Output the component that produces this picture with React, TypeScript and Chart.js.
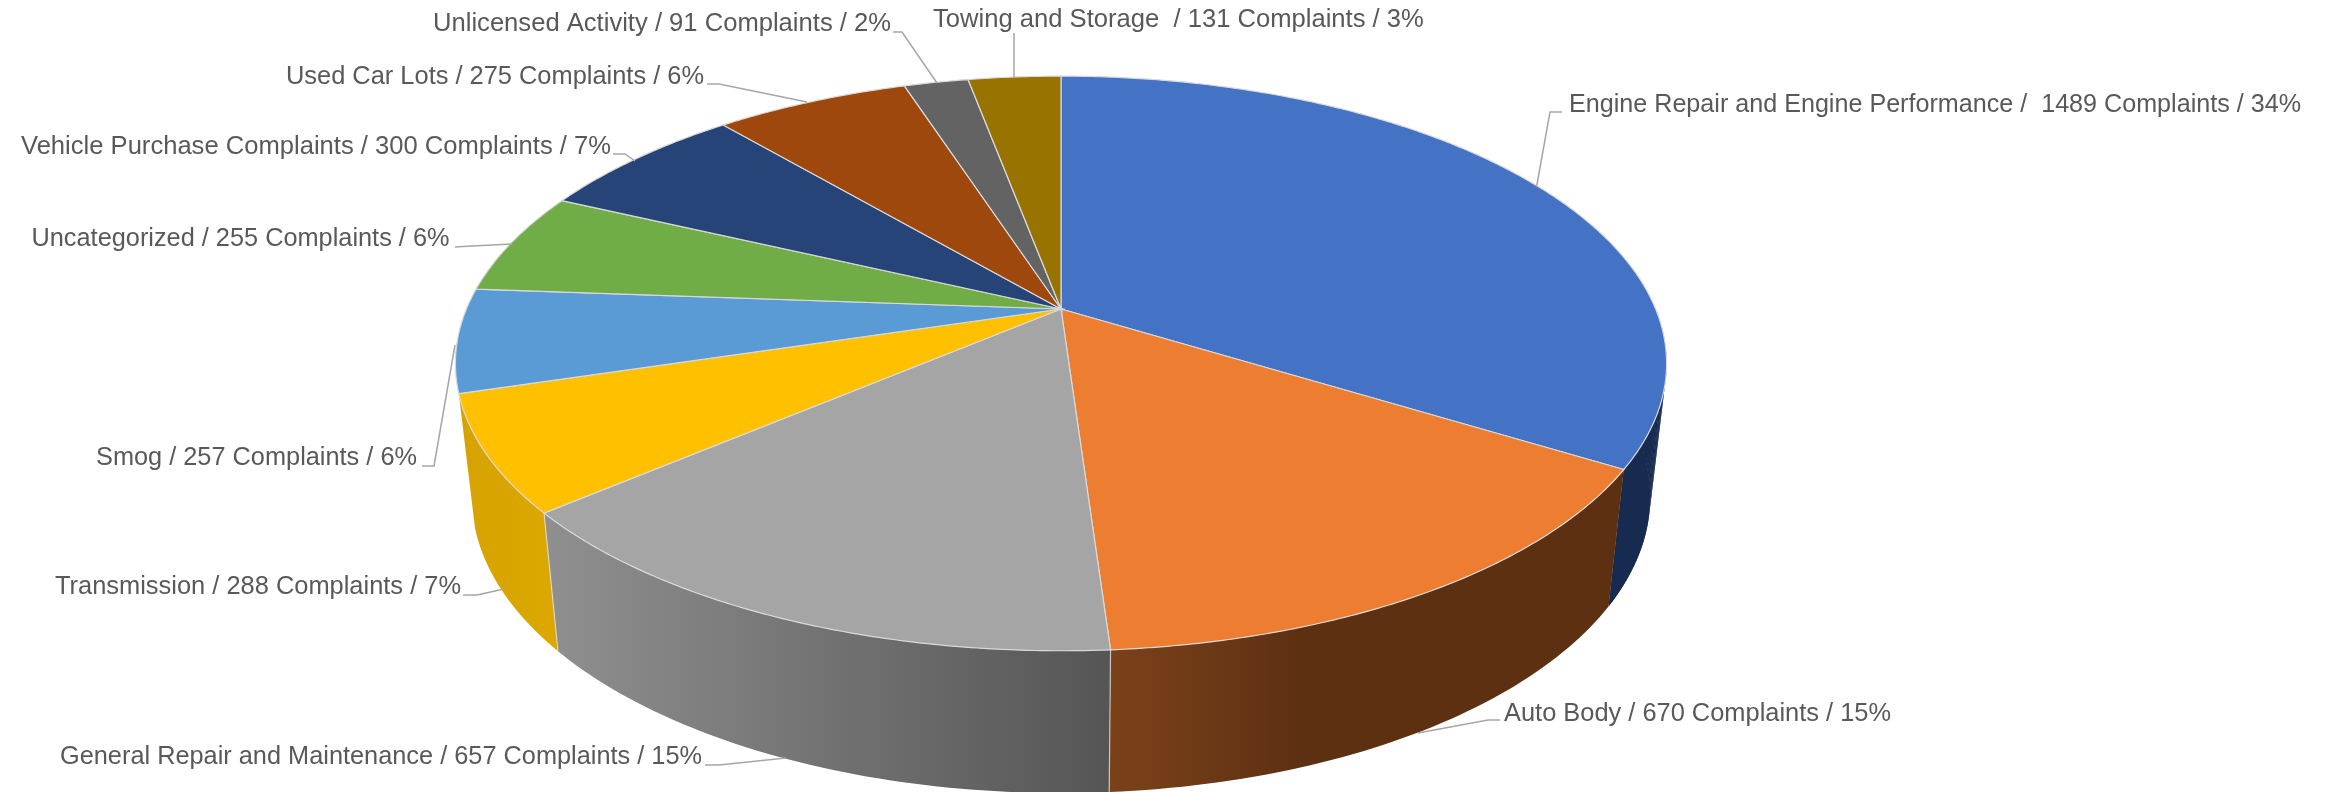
import React, { useEffect, useRef } from "react";
import { Chart, registerables, PieController } from "chart.js";

const categories = [
  "Engine Repair and Engine Performance",
  "Auto Body",
  "General Repair and Maintenance",
  "Transmission",
  "Smog",
  "Uncategorized",
  "Vehicle Purchase Complaints",
  "Used Car Lots",
  "Unlicensed Activity",
  "Towing and Storage",
];
const complaints = [1489, 670, 657, 288, 257, 255, 300, 275, 91, 131];
const percents = [34, 15, 15, 7, 6, 6, 7, 6, 2, 3];
const topColors = ["#4472C4", "#ED7D31", "#A5A5A5", "#FFC000", "#5B9BD5", "#70AD47", "#264478", "#9E480E", "#636363", "#997300"];
const labelTexts = categories.map((c, i) => {
  if (i === 0) return `${c} /  ${complaints[i]} Complaints / ${percents[i]}%`;
  if (i === 9) return `${c}  / ${complaints[i]} Complaints / ${percents[i]}%`;
  return `${c} / ${complaints[i]} Complaints / ${percents[i]}%`;
});

// wall shading per slice: [gradient from x, to x, from colour, to colour]
const wallShades: ([number, number, string, string] | null)[] = [
  [1550, 1670, "#172B50", "#172B50"],
  [1111, 1300, "#7B4219", "#5E3012"],
  [550, 1111, "#8F8F8F", "#555555"],
  [455, 560, "#D5A200", "#DCA800"],
  null, null, null, null, null, null,
];

// perspective of the pie disc
const TOP = { ax: 1061, ay: 309, a: 594.6, b: 277, k: 0.1895 };
const BOTTOM = { ax: 1061, ay: 441, sx: 0.973, sy: 1.03 };

function topPoint(t: number) {
  const u = Math.cos(t), v = Math.sin(t), w = 1 - TOP.k * v;
  return [TOP.ax + (TOP.a * u) / w, TOP.ay + (TOP.b * v) / w];
}
function bottomPoint(t: number) {
  const u = Math.cos(t), v = Math.sin(t), w = 1 - TOP.k * v;
  return [BOTTOM.ax + (BOTTOM.sx * TOP.a * u) / w, BOTTOM.ay + (BOTTOM.sy * TOP.b * v) / w];
}

class Pie3DController extends (PieController as any) {
  static id = "pie3d";
  draw() {
    const ctx = (this as any).chart.ctx as CanvasRenderingContext2D;
    const arcs = (this as any).getMeta().data as any[];
    ctx.save();
    // side walls, visible (front) part only
    arcs.forEach((arc, i) => {
      const shade = wallShades[i];
      if (!shade) return;
      const s = i === 0 ? 0 : arc.startAngle;
      const e = arc.endAngle;
      const g = ctx.createLinearGradient(shade[0], 0, shade[1], 0);
      g.addColorStop(0, shade[2]);
      g.addColorStop(1, shade[3]);
      ctx.fillStyle = g;
      const n = Math.max(2, Math.ceil((e - s) / (Math.PI / 180)));
      ctx.beginPath();
      for (let j = 0; j <= n; j++) {
        const p = topPoint(s + ((e - s) * j) / n);
        j ? ctx.lineTo(p[0], p[1]) : ctx.moveTo(p[0], p[1]);
      }
      for (let j = n; j >= 0; j--) {
        const p = bottomPoint(s + ((e - s) * j) / n);
        ctx.lineTo(p[0], p[1]);
      }
      ctx.closePath();
      ctx.fill();
      if (i === 0) {
        // swept quads give the straight silhouette between the two rims
        for (let j = 0; j < n; j++) {
          const a0 = s + ((e - s) * j) / n;
          const a1 = s + ((e - s) * (j + 1)) / n;
          const q = [topPoint(a0), topPoint(a1), bottomPoint(a1), bottomPoint(a0)];
          ctx.beginPath();
          q.forEach((c, m) => (m ? ctx.lineTo(c[0], c[1]) : ctx.moveTo(c[0], c[1])));
          ctx.closePath();
          ctx.fill();
        }
      }
    });
    // wall separators
    arcs.forEach((arc) => {
      const a = arc.startAngle;
      if (a > 1 && a < 2.6) {
        const p = topPoint(a), q = bottomPoint(a);
        ctx.strokeStyle = "rgba(225,225,225,0.75)";
        ctx.lineWidth = 1.2;
        ctx.beginPath();
        ctx.moveTo(p[0], p[1]);
        ctx.lineTo(q[0], q[1]);
        ctx.stroke();
      }
    });
    // top face
    arcs.forEach((arc, i) => {
      ctx.beginPath();
      ctx.moveTo(TOP.ax, TOP.ay);
      const n = Math.max(2, Math.ceil((arc.endAngle - arc.startAngle) / (0.5 * Math.PI / 180)));
      for (let j = 0; j <= n; j++) {
        const p = topPoint(arc.startAngle + ((arc.endAngle - arc.startAngle) * j) / n);
        ctx.lineTo(p[0], p[1]);
      }
      ctx.closePath();
      ctx.fillStyle = topColors[i];
      ctx.fill();
      ctx.strokeStyle = "#D9D9D9";
      ctx.lineWidth = 1.2;
      ctx.stroke();
    });
    ctx.restore();
  }
}

const FONT = '25.6px "Liberation Sans", Arial, sans-serif';
// label layout: left x, baseline y, max width, and leader polyline
const labelLayout: { x: number; y: number; w: number; leader: number[][] }[] = [
  { x: 1569, y: 112, w: 732, leader: [[1562, 112], [1550, 112], [1536.5, 187]] },
  { x: 1504, y: 721, w: 387, leader: [[1500, 720], [1488, 720], [1418, 733]] },
  { x: 60, y: 764, w: 642, leader: [[705, 765], [719, 765], [786, 758]] },
  { x: 55, y: 594, w: 406, leader: [[463, 595], [477, 595], [504, 589]] },
  { x: 96, y: 465, w: 321, leader: [[422, 466], [434, 466], [455, 345]] },
  { x: 31.5, y: 246, w: 418, leader: [[455, 247], [463, 246.5], [512, 244]] },
  { x: 21, y: 154, w: 590, leader: [[613, 154], [625, 154], [635, 161]] },
  { x: 286, y: 84, w: 418, leader: [[707, 84], [719, 84], [807, 102]] },
  { x: 433, y: 31, w: 458, leader: [[893, 32], [902, 32], [937, 83]] },
  { x: 933, y: 27, w: 491, leader: [[1014, 33], [1014, 78]] },
];

const labelPlugin = {
  id: "pieLabels",
  afterDraw(chart: any) {
    const ctx = chart.ctx as CanvasRenderingContext2D;
    ctx.save();
    ctx.strokeStyle = "#A6A6A6";
    ctx.lineWidth = 1.5;
    labelLayout.forEach((l) => {
      ctx.beginPath();
      l.leader.forEach((p, m) => (m ? ctx.lineTo(p[0], p[1]) : ctx.moveTo(p[0], p[1])));
      ctx.stroke();
    });
    ctx.fillStyle = "#595959";
    ctx.font = FONT;
    ctx.textAlign = "left";
    ctx.textBaseline = "alphabetic";
    labelLayout.forEach((l, i) => ctx.fillText(labelTexts[i], l.x, l.y, l.w));
    ctx.restore();
  },
};

Chart.register(...registerables, Pie3DController as any);

export default function App() {
  const ref = useRef<HTMLCanvasElement>(null);
  useEffect(() => {
    const chart = new Chart(ref.current as HTMLCanvasElement, {
      type: "pie3d" as any,
      data: {
        labels: categories,
        datasets: [{ data: complaints, backgroundColor: topColors }],
      },
      options: {
        animation: false,
        responsive: false,
        plugins: { legend: { display: false }, tooltip: { enabled: false } },
      } as any,
      plugins: [labelPlugin],
    });
    return () => chart.destroy();
  }, []);
  return (
    <div style={{ position: "fixed", left: 0, top: 0, width: 2338, height: 792, background: "#fff" }}>
      <canvas ref={ref} width={2338} height={792} style={{ display: "block" }} />
    </div>
  );
}
